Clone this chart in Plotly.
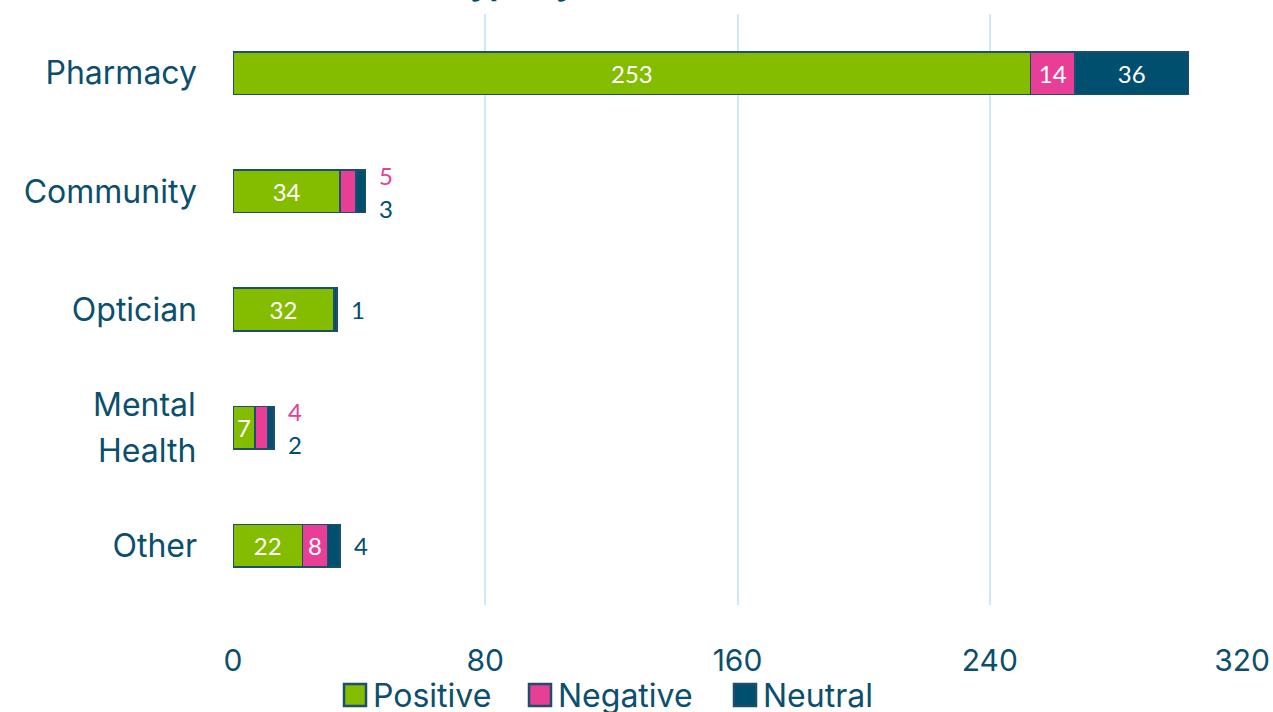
import plotly.graph_objects as go

categories = ["Pharmacy", "Community", "Optician", "Mental Health", "Other"]
tick_labels = ["Pharmacy", "Community", "Optician", "", "Other"]
split_labels = {"Mental Health": ["Mental", "Health"]}
positive = [253, 34, 32, 7, 22]
negative = [14, 5, 0, 4, 8]
neutral = [36, 3, 1, 2, 4]
x_ticks = [0, 80, 160, 240, 320]
series_names = ["Positive", "Negative", "Neutral"]
title_text = "Service type by sentiment"

GREEN = "#84bd00"
PINK = "#e83e96"
NAVY = "#004f6e"
TEXT = "#0b4f6c"
GRID = "#cdeafb"
OUTLINE = "#1c4e6e"
FONT = "Inter, Lato, sans-serif"
LFONT = "Lato, sans-serif"

# body margin removed below; plot area sits at x 233..1242, y 14..605
W, H = 1273, 712
ML, MT = 233, 14
MR = W - 1242
MB = H - 605
PW = W - ML - MR
PH = H - MT - MB

fig = go.Figure()
for name, vals, col in zip(series_names, [positive, negative, neutral], [GREEN, PINK, NAVY]):
    fig.add_trace(go.Bar(
        y=categories, x=vals, name=name, orientation="h",
        marker=dict(color=col, line=dict(color=OUTLINE, width=1.5)),
        text=[str(v) if v > 5 else "" for v in vals],
        textposition="inside", insidetextanchor="middle",
        textfont=dict(family=LFONT, size=24, color="white"),
        constraintext="none", showlegend=False, hoverinfo="skip",
    ))

annotations = []
for i, cat in enumerate(categories):
    total = positive[i] + negative[i] + neutral[i]
    outs = []
    if 0 < negative[i] <= 5:
        outs.append((negative[i], PINK))
    if 0 < neutral[i] <= 5:
        outs.append((neutral[i], NAVY))
    shifts = [16, -17] if len(outs) == 2 else [0]
    for (v, c), s in zip(outs, shifts):
        annotations.append(dict(x=total, y=cat, xref="x", yref="y", text=str(v),
                                showarrow=False, xanchor="left", xshift=12, yshift=s,
                                font=dict(family=LFONT, size=24, color=c)))

# two-line category label with wider line spacing
for cat, lines in split_labels.items():
    for line, s in zip(lines, [23, -23]):
        annotations.append(dict(x=0, y=cat, xref="paper", yref="y", text=line,
                                showarrow=False, xanchor="right", xshift=-35, yshift=s,
                                font=dict(family=FONT, size=32, color=TEXT)))

# title (mostly above the top of the page, as in the reference)
annotations.append(dict(x=0.30, y=1.015, xref="paper", yref="paper", text="<b>" + title_text + "</b>",
                        showarrow=False, xanchor="center", yanchor="bottom",
                        font=dict(family=FONT, size=32, color=NAVY)))

# custom legend
shapes = []
leg_px = [344, 529, 734]
leg_x = [(p - 233) / PW for p in leg_px]
sq_w = 22 / PW
sq_h = 22 / PH
yc = (605 - 695) / PH
for name, col, lx in zip(series_names, [GREEN, PINK, NAVY], leg_x):
    shapes.append(dict(type="rect", xref="paper", yref="paper", x0=lx, x1=lx + sq_w,
                       y0=yc - sq_h / 2, y1=yc + sq_h / 2, fillcolor=col,
                       line=dict(color=OUTLINE, width=2.5)))
    annotations.append(dict(x=lx + sq_w, y=yc, xref="paper", yref="paper", text=name,
                            showarrow=False, xanchor="left", yanchor="middle", xshift=5,
                            font=dict(family=FONT, size=32, color=TEXT)))

fig.update_layout(
    autosize=False,
    barmode="stack", bargap=0.64,
    width=W, height=H,
    margin=dict(l=ML, r=MR, t=MT, b=MB),
    paper_bgcolor="white", plot_bgcolor="white",
    showlegend=False,
    annotations=annotations, shapes=shapes,
    xaxis=dict(range=[0, 320], tickvals=x_ticks, ticktext=[str(t) for t in x_ticks],
               showgrid=True, gridcolor=GRID, gridwidth=2, zeroline=False,
               showline=False, ticks="", ticklabelstandoff=35, automargin=False,
               tickfont=dict(family=FONT, size=30, color=TEXT)),
    yaxis=dict(autorange="reversed", tickvals=categories, ticktext=tick_labels,
               showgrid=False, zeroline=False, showline=False, ticks="",
               ticklabelstandoff=35, automargin=False,
               tickfont=dict(family=FONT, size=32, color=TEXT)),
)

fig.write_html("out.html",
               config={"displayModeBar": False, "responsive": False},
               post_script="document.body.style.margin='0';document.body.style.overflow='hidden';")
